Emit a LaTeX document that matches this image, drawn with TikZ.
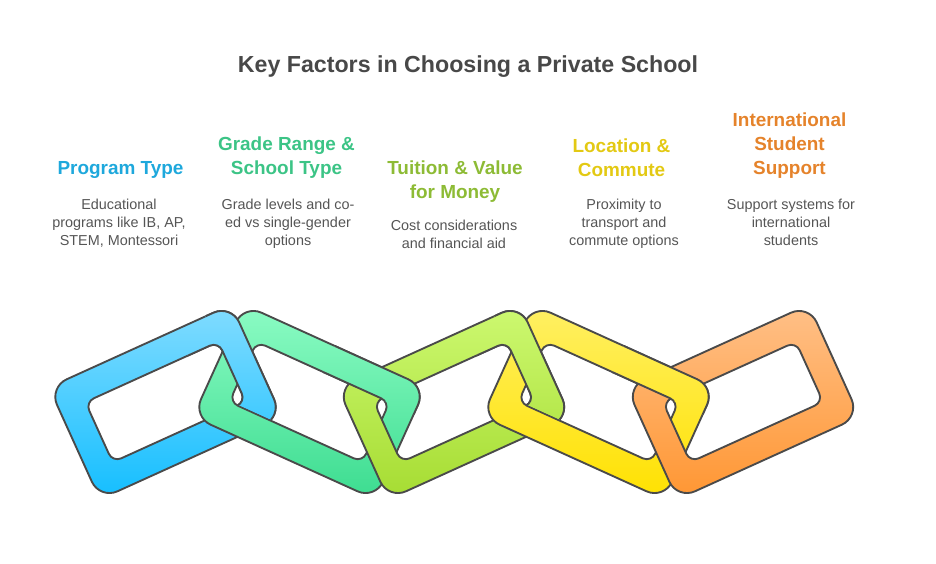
\documentclass[tikz,border=0pt]{standalone}
\usepackage{fontspec}
\setmainfont{Liberation Sans}
\usetikzlibrary{positioning,calc}

\definecolor{titlegray}{HTML}{484848}
\definecolor{bodygray}{HTML}{555555}
\definecolor{edgegray}{HTML}{4A4A4A}
\definecolor{progtext}{HTML}{1EA8DC}
\definecolor{gradetext}{HTML}{3CC486}
\definecolor{tuittext}{HTML}{8DBB35}
\definecolor{loctext}{HTML}{E3C913}
\definecolor{supptext}{HTML}{E5832B}
\definecolor{blueA}{HTML}{82DCFF}
\definecolor{blueB}{HTML}{14BEFF}
\definecolor{greenA}{HTML}{8CFCC4}
\definecolor{greenB}{HTML}{3CDC90}
\definecolor{limeA}{HTML}{CDF971}
\definecolor{limeB}{HTML}{A6DC32}
\definecolor{yellowA}{HTML}{FFF064}
\definecolor{yellowB}{HTML}{FFE100}
\definecolor{orangeA}{HTML}{FFC088}
\definecolor{orangeB}{HTML}{FF9632}

\tikzset{
    heading/.style={align=center, font=\fontsize{14.2}{18}\selectfont\bfseries},
    bodytext/.style={align=center, text=bodygray, font=\fontsize{10.8}{13.5}\selectfont},
    linkline/.style={draw=edgegray, line width=1.4pt, even odd rule}
}

% one chain link: outer frame and hole
\newcommand{\linkshape}{
    [rounded corners=14.5pt] (0,-61.5) -- (100,-61.5) -- (100,61.5) -- (-100,61.5) -- (-100,-61.5) -- cycle
    [rounded corners=7pt] (0,-33) -- (73,-33) -- (73,33) -- (-73,33) -- (-73,-33) -- cycle
}
% centre x, angle, top colour, bottom colour
\newcommand{\drawlink}[4]{
    \begin{scope}[shift={(#1,402)}, rotate=#2]
        \path[even odd rule, top color=#3, bottom color=#4] \linkshape;
        \path[linkline] \linkshape;
    \end{scope}
}

\begin{document}
\begin{tikzpicture}[x=0.75pt, y=-0.75pt]
    \useasboundingbox (0,0) rectangle (936,564);

    \node[heading, text=titlegray, font=\fontsize{17.4}{22}\selectfont\bfseries] (title) at (468,67) {Key Factors in Choosing a Private School};

    % column texts
    \node[heading, text=progtext] (progHead) at (120.5,170) {Program Type};
    \node[bodytext] (progBody) at (119,223.5) {Educational\\programs like IB, AP,\\STEM, Montessori};
    \node[heading, text=gradetext] (gradeHead) at (286.5,158) {Grade Range \&\\School Type};
    \node[bodytext] (gradeBody) at (288,224) {Grade levels and co-\\ed vs single-gender\\options};
    \node[heading, text=tuittext] (tuitHead) at (455,182) {Tuition \& Value\\for Money};
    \node[bodytext] (tuitBody) at (454,234) {Cost considerations\\and financial aid};
    \node[heading, text=loctext] (locHead) at (621.5,158) {Location \&\\Commute};
    \node[bodytext] (locBody) at (624,224) {Proximity to\\transport and\\commute options};
    \node[heading, text=supptext] (suppHead) at (789.5,146) {International\\Student\\Support};
    \node[bodytext] (suppBody) at (791,222.5) {Support systems for\\international\\students};

    % whole links, left to right
    \foreach \x/\ang/\colA/\colB in {165.5/24.4/blueA/blueB, 309.5/-24.4/greenA/greenB, 454/24.4/limeA/limeB, 598.5/-24.4/yellowA/yellowB, 743/24.4/orangeA/orangeB} {
        \drawlink{\x}{\ang}{\colA}{\colB}
    }

    % rising link back over the top of the next falling link
    \foreach \x/\nx/\colA/\colB in {165.5/309.5/blueA/blueB, 454/598.5/limeA/limeB} {
        \begin{scope}
            \clip[shift={(\nx,402)}, rotate=-24.4] (-130,-90) rectangle (0,32);
            \drawlink{\x}{24.4}{\colA}{\colB}
        \end{scope}
    }
    % falling link back over the corner of the next rising link
    \foreach \x/\colA/\colB in {309.5/greenA/greenB, 598.5/yellowA/yellowB} {
        \begin{scope}
            \clip[shift={(\x,402)}, rotate=-24.4] (0,-90) rectangle (130,-32);
            \drawlink{\x}{-24.4}{\colA}{\colB}
        \end{scope}
    }
\end{tikzpicture}
\end{document}
